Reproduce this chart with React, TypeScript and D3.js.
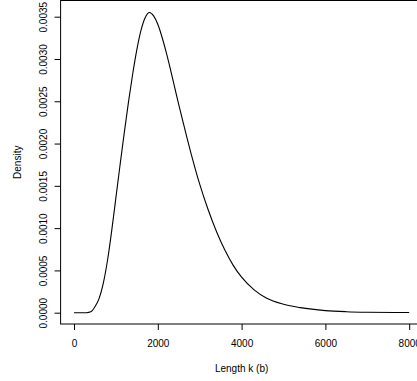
import React, { useEffect, useRef } from 'react';
import * as d3 from 'd3';

// density estimate: length (b) and density
const lengths = [0, 300, 400, 500, 600, 700, 800, 900, 1000, 1100, 1200, 1300, 1400, 1500, 1600, 1700, 1800, 1900, 2000, 2100, 2200, 2300, 2400, 2500, 2600, 2700, 2800, 2900, 3000, 3200, 3400, 3600, 3800, 4000, 4300, 4600, 5000, 5400, 6000, 6500, 7000, 8000];
const densities = [0, 0, 0.00001, 0.00007, 0.00017, 0.00035, 0.00062, 0.00097, 0.00136, 0.00175, 0.00213, 0.00249, 0.00282, 0.00311, 0.00334, 0.00349, 0.00355, 0.00351, 0.00341, 0.00326, 0.00308, 0.00288, 0.00267, 0.00246, 0.00226, 0.00206, 0.00187, 0.00169, 0.00152, 0.00122, 0.00096, 0.00074, 0.00056, 0.00042, 0.00027, 0.00017, 0.0001, 0.00006, 0.000025, 0.000012, 0.000006, 0.000002];

const xTicks = [0, 2000, 4000, 6000, 8000];
const yTicks = [0, 0.0005, 0.001, 0.0015, 0.002, 0.0025, 0.003, 0.0035];

const xLabel = 'Length k (b)';
const yLabel = 'Density';

const width = 417;
const height = 381;

function DensityChart() {
    const ref = useRef<SVGSVGElement>(null);

    useEffect(() => {
        const svg = d3.select(ref.current);
        svg.selectAll('*').remove();

        const x = d3.scaleLinear().domain([0, 8000]).range([74, 409.2]);
        const y = d3.scaleLinear().domain([0, 0.0035]).range([312.7, 16.7]);

        // plot box (R style, 4% padding round the data)
        const boxL = x(-320), boxR = x(8320);
        const boxT = 0.5, boxB = 324;

        svg.append('rect')
            .attr('x', boxL)
            .attr('y', boxT)
            .attr('width', boxR - boxL)
            .attr('height', boxB - boxT)
            .style('fill', 'none')
            .style('stroke', 'black')
            .style('stroke-width', 1);

        const xAxis = svg.append('g')
            .attr('transform', `translate(0, ${boxB})`)
            .call(d3.axisBottom(x).tickValues(xTicks).tickSize(6).tickPadding(10).tickFormat(d3.format('d')));
        xAxis.select('.domain').remove();

        const yAxis = svg.append('g')
            .attr('transform', `translate(${boxL}, 0)`)
            .call(d3.axisLeft(y).tickValues(yTicks).tickSize(6).tickFormat(d3.format('.4f')));
        yAxis.select('.domain').remove();
        yAxis.selectAll('text')
            .attr('x', null)
            .attr('dy', null)
            .attr('text-anchor', 'middle')
            .attr('transform', `translate(${46.7 - boxL}, 0) rotate(-90)`);

        svg.selectAll('.tick text')
            .style('font-family', 'Liberation Sans, Arial, sans-serif')
            .style('font-size', '10px')
            .style('fill', 'black');
        svg.selectAll('.tick line').style('stroke', 'black');

        const points: [number, number][] = lengths.map((l, i) => [l, densities[i]]);
        const line = d3.line<[number, number]>()
            .x(d => x(d[0]))
            .y(d => y(d[1]))
            .curve(d3.curveMonotoneX);

        svg.append('path')
            .attr('d', line(points))
            .style('fill', 'none')
            .style('stroke', 'black')
            .style('stroke-width', 1.1);

        svg.append('text')
            .attr('x', (boxL + boxR) / 2)
            .attr('y', 372)
            .attr('text-anchor', 'middle')
            .style('font-family', 'Liberation Sans, Arial, sans-serif')
            .style('font-size', '10px')
            .text(xLabel);

        svg.append('text')
            .attr('transform', `translate(20.5, ${(boxT + boxB) / 2}) rotate(-90)`)
            .attr('text-anchor', 'middle')
            .style('font-family', 'Liberation Sans, Arial, sans-serif')
            .style('font-size', '10px')
            .text(yLabel);
    }, []);

    return (
        <svg ref={ref} width={width} height={height}
            style={{ position: 'absolute', left: 0, top: 0, background: 'white' }} />
    );
}

export default function App() {
    return <DensityChart />;
}
